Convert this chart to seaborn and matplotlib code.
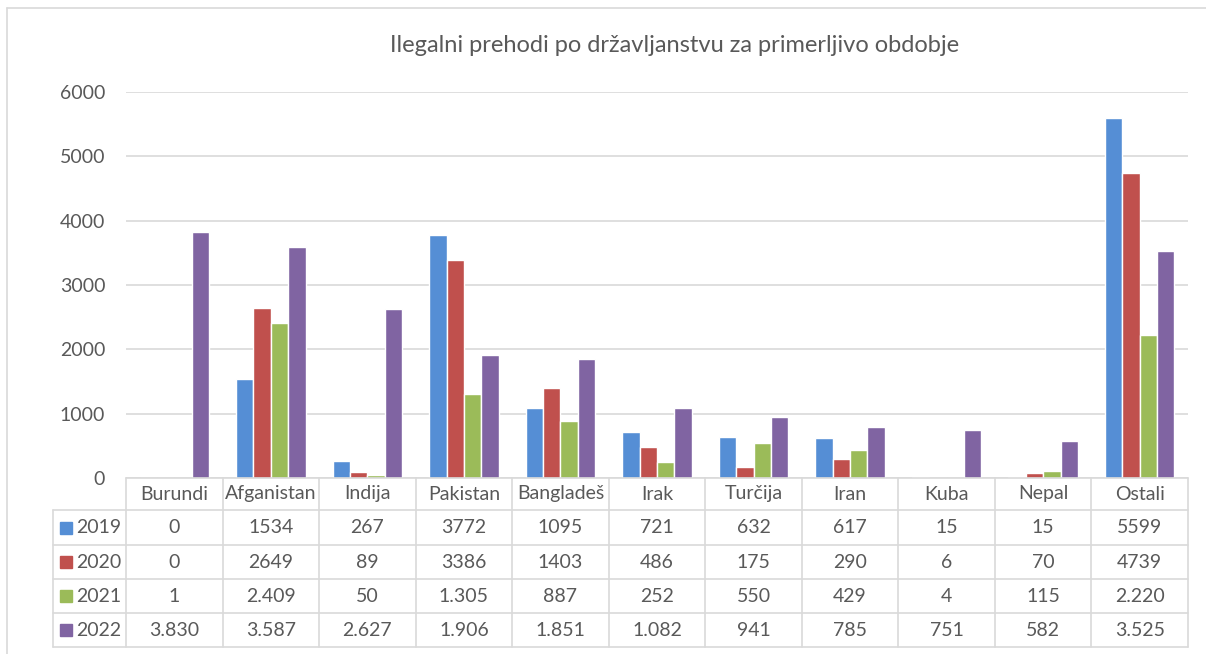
import seaborn as sns
import matplotlib.pyplot as plt
from matplotlib.lines import Line2D
from matplotlib.patches import Rectangle
import pandas as pd

# Data
categories = ['Burundi', 'Afganistan', 'Indija', 'Pakistan', 'Bangladeš', 'Irak',
              'Turčija', 'Iran', 'Kuba', 'Nepal', 'Ostali']
years = ['2019', '2020', '2021', '2022']
v2019 = [0, 1534, 267, 3772, 1095, 721, 632, 617, 15, 15, 5599]
v2020 = [0, 2649, 89, 3386, 1403, 486, 175, 290, 6, 70, 4739]
v2021 = [1, 2409, 50, 1305, 887, 252, 550, 429, 4, 115, 2220]
v2022 = [3830, 3587, 2627, 1906, 1851, 1082, 941, 785, 751, 582, 3525]
# rows shown with a dot as thousands separator in the source table
dotted_years = ['2021', '2022']

COLORS = ['#558ED5', '#C0504D', '#9BBB59', '#8064A2']
GRID = '#D9D9D9'
TEXT = '#595959'
W, H = 1206, 654
FS = 14

sns.set_theme(style='white')
plt.rcParams['font.family'] = ['Lato', 'DejaVu Sans']


def fx(x):
    return x / W


def fy(y):
    return 1 - y / H


def fmt(v, year):
    if year in dotted_years:
        return f'{v:,}'.replace(',', '.')
    return str(v)


series = [v2019, v2020, v2021, v2022]
df = pd.DataFrame({
    'Država': categories * 4,
    'Leto': [y for y in years for _ in categories],
    'Število': [v for s in series for v in s],
})

fig = plt.figure(figsize=(W / 100, H / 100), dpi=100)
left, right, top, bottom = 126, 1188, 92, 478
ax = fig.add_axes([fx(left), fy(bottom), fx(right - left), (bottom - top) / H])

sns.barplot(data=df, x='Država', y='Število', hue='Leto', order=categories,
            hue_order=years, palette=COLORS, width=0.72, saturation=1,
            legend=False, ax=ax)

ax.set_ylim(0, 6000)
ax.set_xlim(-0.5, len(categories) - 0.5)
ax.set_yticks(range(0, 6001, 1000))
ax.yaxis.grid(True, color=GRID, linewidth=1.2)
ax.set_axisbelow(True)
ax.set_xticks([])
ax.set_xlabel('')
ax.set_ylabel('')
ax.tick_params(axis='y', length=0, pad=15, labelsize=FS, labelcolor=TEXT)
for sp in ax.spines.values():
    sp.set_visible(False)

fig.text(fx(675), fy(45), 'Ilegalni prehodi po državljanstvu za primerljivo obdobje',
         ha='center', va='center', fontsize=17, color=TEXT)

# outer chart border (top and left visible)
fig.add_artist(Line2D([fx(7), fx(1206)], [fy(8), fy(8)], color=GRID, lw=1.2))
fig.add_artist(Line2D([fx(7), fx(7)], [fy(8), fy(654)], color=GRID, lw=1.2))

# data table
row_y = [478, 510, 545, 579, 613, 647]
col_w = (right - left) / len(categories)
col_x = [left + i * col_w for i in range(len(categories) + 1)]
tbl_left = 53

for y in row_y:
    x0 = left if y == row_y[0] else tbl_left
    fig.add_artist(Line2D([fx(x0), fx(right)], [fy(y), fy(y)], color=GRID, lw=1.2))
for x in col_x:
    fig.add_artist(Line2D([fx(x), fx(x)], [fy(row_y[0]), fy(row_y[-1])], color=GRID, lw=1.2))
fig.add_artist(Line2D([fx(tbl_left), fx(tbl_left)], [fy(row_y[1]), fy(row_y[-1])],
                      color=GRID, lw=1.2))

for i, cat in enumerate(categories):
    cx = fx(col_x[i] + col_w / 2)
    fig.text(cx, fy((row_y[0] + row_y[1]) / 2), cat, ha='center', va='center',
             fontsize=FS, color=TEXT)
    for r, (year, s) in enumerate(zip(years, series)):
        fig.text(cx, fy((row_y[r + 1] + row_y[r + 2]) / 2), fmt(s[i], year),
                 ha='center', va='center', fontsize=FS, color=TEXT)

for r, (year, c) in enumerate(zip(years, COLORS)):
    yc = (row_y[r + 1] + row_y[r + 2]) / 2
    fig.add_artist(Rectangle((fx(60), fy(yc + 6)), 12 / W, 12 / H, color=c,
                             transform=fig.transFigure))
    fig.text(fx(76), fy(yc), year, ha='left', va='center', fontsize=FS, color=TEXT)

fig.savefig('out.png', dpi=100, facecolor='white')
